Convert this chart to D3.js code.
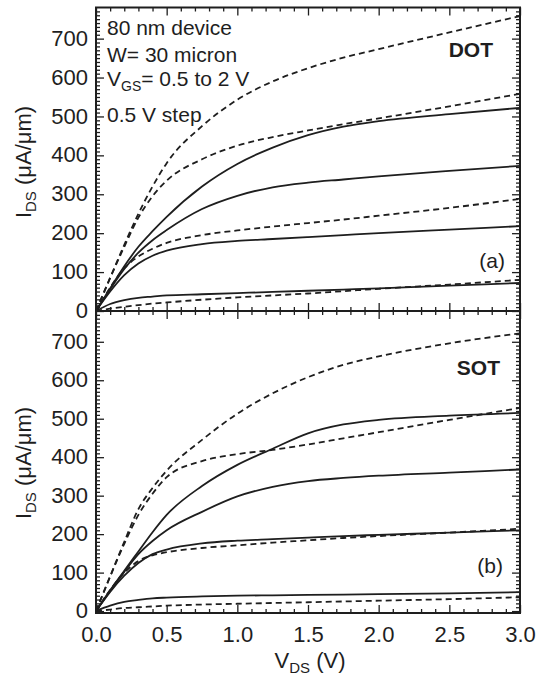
<!DOCTYPE html>
<html><head><meta charset="utf-8">
<script src="https://cdn.jsdelivr.net/npm/d3@7"></script>
<style>
html,body{margin:0;padding:0;background:#fff;}
svg text{font-family:"Liberation Sans",Arial,sans-serif;fill:#1e1e1e;}
</style></head>
<body>
<svg id="chart" width="537" height="678"></svg>
<script>
// ---------- data ----------
const VDS = [0, 0.1, 0.2, 0.3, 0.4, 0.5, 0.75, 1.0, 1.25, 1.5, 1.75, 2.0, 2.5, 3.0];

// (a) DOT panel
const dotSolid05  = [0, 18, 28, 34, 37, 40, 43, 46, 49, 52, 55, 58, 65, 72];
const dotSolid10  = [0, 50, 92, 122, 142, 155, 172, 180, 185, 190, 195, 200, 209, 218];
const dotSolid15  = [0, 56, 108, 150, 182, 208, 262, 296, 318, 330, 338, 346, 360, 373];
const dotSolid20  = [0, 58, 115, 165, 205, 242, 320, 378, 420, 452, 474, 488, 506, 522];
const dotDashed05 = [0, 6, 11, 15, 19, 22, 29, 35, 40, 45, 51, 57, 68, 80];
const dotDashed10 = [0, 60, 110, 140, 160, 175, 195, 207, 217, 226, 235, 245, 265, 288];
const dotDashed15 = [0, 85, 165, 240, 295, 335, 390, 425, 447, 464, 480, 495, 526, 558];
const dotDashed20 = [0, 85, 170, 250, 320, 380, 475, 543, 590, 624, 651, 673, 716, 758];

// (b) SOT panel
const sotSolid05  = [0, 14, 24, 29, 33, 35, 38, 40, 41, 42, 43, 44, 46, 49];
const sotSolid10  = [0, 50, 92, 125, 148, 160, 176, 183, 187, 191, 195, 198, 204, 210];
const sotSolid15  = [0, 52, 102, 148, 182, 210, 258, 298, 323, 338, 346, 352, 360, 368];
const sotSolid20  = [0, 54, 105, 155, 205, 250, 325, 380, 422, 462, 485, 497, 508, 515];
const sotDashed05 = [0, 4, 8, 10, 12, 14, 17, 19, 21, 23, 25, 27, 31, 36];
const sotDashed10 = [0, 55, 100, 130, 145, 153, 164, 171, 178, 184, 190, 195, 204, 214];
const sotDashed15 = [0, 90, 175, 250, 305, 348, 390, 408, 419, 433, 449, 465, 497, 528];
const sotDashed20 = [0, 90, 180, 265, 320, 365, 445, 513, 566, 608, 640, 662, 696, 722];

const xMajorTicks = [0, 0.5, 1.0, 1.5, 2.0, 2.5, 3.0];
const yMajorTicks = [0, 100, 200, 300, 400, 500, 600, 700];

const annotationLines = ["80 nm device", "W= 30 micron", "0.5 V step"];

// ---------- layout ----------
const svg = d3.select("#chart");
const ink = "#1e1e1e";
const left = 96, right = 520;
const x = d3.scaleLinear().domain([0, 3]).range([left, right]);

const panels = [
  {name: "DOT", tag: "(a)", top: 7.5, bottom: 311, domain: [0, 780],
   solid: [dotSolid05, dotSolid10, dotSolid15, dotSolid20],
   dashed: [dotDashed05, dotDashed10, dotDashed15, dotDashed20],
   nameX: 493, nameY: 57, tagY: 268, tagX: 505, labelY: 162},
  {name: "SOT", tag: "(b)", top: 311, bottom: 613, domain: [-5, 780],
   solid: [sotSolid05, sotSolid10, sotSolid15, sotSolid20],
   dashed: [sotDashed05, sotDashed10, sotDashed15, sotDashed20],
   nameX: 500, nameY: 375, tagY: 573, tagX: 503, labelY: 463}
];

const xMinor = d3.range(0, 3.0001, 0.1).map(v => +v.toFixed(2)).filter(v => !xMajorTicks.includes(v));
const yMinor = d3.range(0, 771, 10).filter(v => v % 100 !== 0);

panels.forEach((p, i) => {
  const y = d3.scaleLinear().domain(p.domain).range([p.bottom, p.top]);
  const g = svg.append("g");

  function addAxis(axis, tx, ty, labels) {
    const a = g.append("g").attr("transform", `translate(${tx},${ty})`).call(axis);
    a.select(".domain").remove();
    a.selectAll("line").attr("stroke", ink).attr("stroke-width", 1.3);
    if (!labels) a.selectAll("text").remove();
    else a.selectAll("text").attr("fill", ink).style("font-size", "22px")
          .style("font-family", '"Liberation Sans",Arial,sans-serif');
    return a;
  }
  const yl = addAxis(d3.axisLeft(y).tickValues(yMajorTicks).tickSize(-8).tickPadding(8).tickFormat(d3.format("d")), left, 0, true);
  yl.selectAll("text").attr("dy", "0.3em");
  addAxis(d3.axisLeft(y).tickValues(yMinor).tickSize(-4).tickFormat(""), left, 0, false);
  addAxis(d3.axisRight(y).tickValues(yMajorTicks).tickSize(-8).tickFormat(""), right, 0, false);
  addAxis(d3.axisRight(y).tickValues(yMinor).tickSize(-4).tickFormat(""), right, 0, false);
  const isLast = i === panels.length - 1;
  addAxis(d3.axisBottom(x).tickValues(xMajorTicks).tickSize(-8).tickPadding(13).tickFormat(d3.format(".1f")), 0, p.bottom, isLast);
  addAxis(d3.axisBottom(x).tickValues(xMinor).tickSize(-4).tickFormat(""), 0, p.bottom, false);
  addAxis(d3.axisTop(x).tickValues(xMajorTicks).tickSize(-8).tickFormat(""), 0, p.top, false);
  addAxis(d3.axisTop(x).tickValues(xMinor).tickSize(-4).tickFormat(""), 0, p.top, false);

  g.append("rect").attr("x", left).attr("y", p.top)
    .attr("width", right - left).attr("height", p.bottom - p.top)
    .attr("fill", "none").attr("stroke", ink).attr("stroke-width", 2);

  const line = d3.line().x((d, k) => x(VDS[k])).y(d => y(d)).curve(d3.curveMonotoneX);
  p.solid.forEach(s => g.append("path").attr("d", line(s)).attr("fill", "none")
    .attr("stroke", ink).attr("stroke-width", 1.8));
  p.dashed.forEach(s => g.append("path").attr("d", line(s)).attr("fill", "none")
    .attr("stroke", ink).attr("stroke-width", 1.8).attr("stroke-dasharray", "6,4"));

  g.append("text").attr("x", p.nameX).attr("y", p.nameY).attr("text-anchor", "end")
    .style("font-size", "21px").style("font-weight", "bold").text(p.name);
  g.append("text").attr("x", p.tagX).attr("y", p.tagY).attr("text-anchor", "end")
    .style("font-size", "21px").text(p.tag);

  const yt = g.append("text").attr("transform", `translate(31,${p.labelY}) rotate(-90)`)
    .attr("text-anchor", "middle").style("font-size", "22px");
  yt.append("tspan").text("I");
  yt.append("tspan").attr("dy", 5).style("font-size", "15px").text("DS");
  yt.append("tspan").attr("dy", -5).text(" (\u03bcA/\u03bcm)");
});

const ann = svg.append("g").style("font-size", "21px");
ann.append("text").attr("x", 107).attr("y", 35).text(annotationLines[0]);
ann.append("text").attr("x", 107).attr("y", 62).text(annotationLines[1]);
const vgs = ann.append("text").attr("x", 107).attr("y", 86);
vgs.append("tspan").text("V");
vgs.append("tspan").attr("dy", 5).style("font-size", "14px").text("GS");
vgs.append("tspan").attr("dy", -5).text("= 0.5 to 2 V");
ann.append("text").attr("x", 107).attr("y", 122).text(annotationLines[2]);

const xt = svg.append("text").attr("x", 310).attr("y", 668).attr("text-anchor", "middle").style("font-size", "22px");
xt.append("tspan").text("V");
xt.append("tspan").attr("dy", 5).style("font-size", "15px").text("DS");
xt.append("tspan").attr("dy", -5).text(" (V)");
</script>
</body></html>
